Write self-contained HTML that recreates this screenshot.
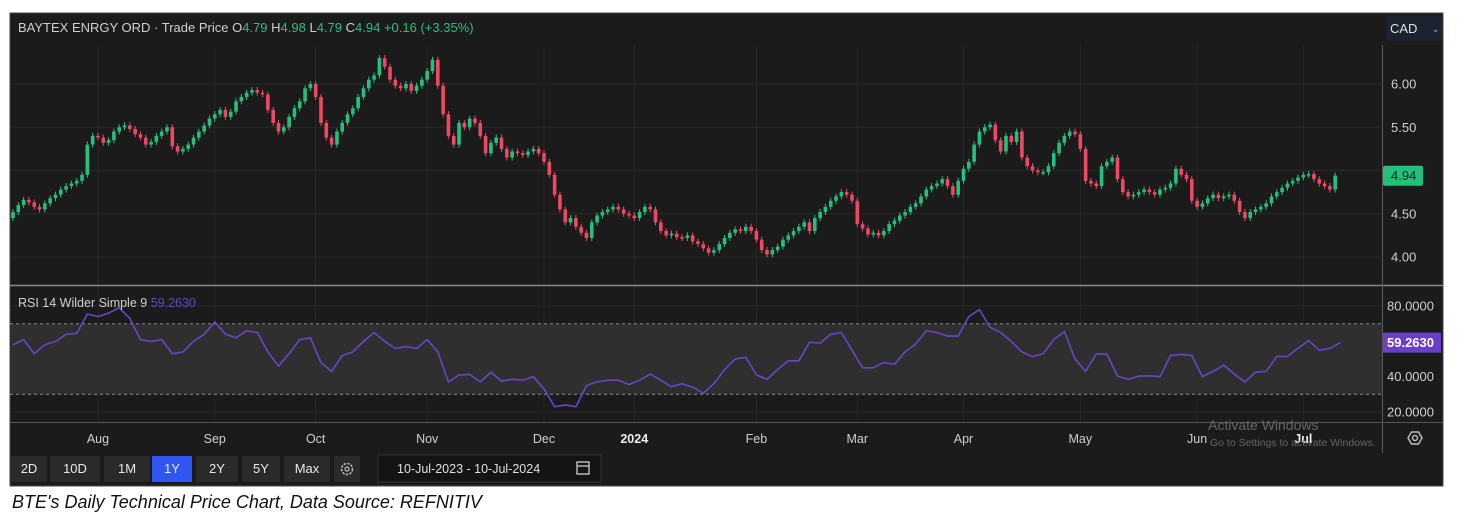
<!DOCTYPE html>
<html><head><meta charset="utf-8">
<style>
html,body{margin:0;padding:0;background:#fff;width:1457px;height:527px;overflow:hidden}
#wrap{position:relative;width:1457px;height:527px;font-family:"Liberation Sans",sans-serif}
svg text{font-family:"Liberation Sans",sans-serif}
.cap{position:absolute;left:12px;top:492px;font-size:18px;font-style:italic;color:#111}
</style></head>
<body><div id="wrap">
<svg id="chart" width="1457" height="527">
  <rect x="10" y="13" width="1433" height="473" fill="#1b1b1b" stroke="#4a4a4a"/>
  <g id="grid"></g>
  <rect id="rsiBand" fill="#2f2f2f"/>
  <g id="candles"></g>
  <g id="rsi"></g>
  <line x1="10" y1="285.5" x2="1443" y2="285.5" stroke="#8a8a8a" stroke-width="1.5"/>
  <line x1="10" y1="422.5" x2="1443" y2="422.5" stroke="#555"/>
  <line x1="1382.5" y1="45" x2="1382.5" y2="453" stroke="#5a5a5a"/>
  <g id="yticks"></g>
  <g id="xticks"></g>
  <text x="18" y="32" font-size="13" fill="#d0d0d0">BAYTEX ENRGY ORD · Trade Price <tspan fill="#d0d0d0">O</tspan><tspan fill="#2ebd7f">4.79</tspan> <tspan fill="#d0d0d0">H</tspan><tspan fill="#2ebd7f">4.98</tspan> <tspan fill="#d0d0d0">L</tspan><tspan fill="#2ebd7f">4.79</tspan> <tspan fill="#d0d0d0">C</tspan><tspan fill="#2ebd7f">4.94</tspan> <tspan fill="#2ebd7f">+0.16 (+3.35%)</tspan></text>
  <text x="18" y="307" font-size="12.5" fill="#d0d0d0">RSI 14 Wilder Simple 9 <tspan fill="#6a45c8">59.2630</tspan></text>
  <g>
    <rect x="1386" y="16" width="56" height="25" rx="3" fill="#1d2230"/>
    <text x="1390" y="33" font-size="13" fill="#e0e0e0">CAD</text>
    <text x="1432" y="32" font-size="9" fill="#bbb">⌄</text>
  </g>
  <g id="lastPrice"></g>
  <g id="lastRsi"></g>
  <g>
    <polygon points="1408,438 1411.5,432 1418.5,432 1422,438 1418.5,444 1411.5,444" fill="none" stroke="#bbb" stroke-width="1.5"/>
    <circle cx="1415" cy="438" r="2.5" fill="none" stroke="#bbb" stroke-width="1.5"/>
  </g>
  <text x="1208" y="430" font-size="14" fill="#777" opacity="0.8">Activate Windows</text>
  <text x="1210" y="446" font-size="10.5" fill="#777" opacity="0.8">Go to Settings to activate Windows.</text>
  <g id="toolbar"></g>
</svg>
<div class="cap">BTE's Daily Technical Price Chart, Data Source: REFNITIV</div>
</div>
<script>
const closes = [
4.52,4.60,4.66,4.63,4.58,4.55,4.62,4.68,4.72,4.78,
4.82,4.85,4.88,4.95,5.30,5.40,5.38,5.32,5.35,5.45,
5.50,5.52,5.48,5.42,5.38,5.30,5.33,5.40,5.45,5.50,
5.28,5.22,5.25,5.30,5.38,5.45,5.52,5.60,5.65,5.70,
5.62,5.68,5.80,5.85,5.90,5.93,5.90,5.88,5.70,5.55,
5.45,5.50,5.62,5.72,5.80,5.95,6.00,5.85,5.55,5.38,
5.30,5.45,5.55,5.65,5.72,5.85,5.95,6.05,6.10,6.30,
6.20,6.05,5.98,5.95,6.00,5.92,5.98,6.05,6.15,6.28,
5.98,5.65,5.40,5.30,5.55,5.50,5.60,5.55,5.40,5.20,
5.32,5.38,5.25,5.15,5.22,5.20,5.18,5.22,5.25,5.20,
5.10,4.95,4.72,4.55,4.40,4.45,4.35,4.28,4.22,4.40,
4.48,4.52,4.55,4.58,4.55,4.50,4.48,4.45,4.52,4.58,
4.55,4.40,4.30,4.25,4.27,4.23,4.22,4.25,4.18,4.15,
4.10,4.05,4.08,4.15,4.22,4.28,4.32,4.30,4.35,4.30,
4.20,4.08,4.03,4.08,4.12,4.20,4.25,4.30,4.35,4.40,
4.30,4.45,4.52,4.58,4.65,4.70,4.75,4.72,4.65,4.38,
4.33,4.26,4.28,4.25,4.30,4.38,4.42,4.48,4.52,4.58,
4.62,4.70,4.78,4.82,4.85,4.90,4.82,4.72,4.88,5.02,
5.10,5.30,5.45,5.50,5.53,5.35,5.22,5.40,5.33,5.45,
5.15,5.05,5.00,4.98,4.98,5.05,5.20,5.32,5.40,5.45,
5.42,5.25,4.88,4.85,4.82,5.05,5.10,5.15,4.90,4.75,
4.70,4.72,4.75,4.78,4.75,4.72,4.78,4.80,4.85,5.02,
4.95,4.90,4.65,4.58,4.62,4.68,4.72,4.68,4.70,4.72,
4.65,4.52,4.45,4.52,4.55,4.58,4.62,4.70,4.75,4.80,
4.85,4.88,4.92,4.95,4.96,4.90,4.85,4.82,4.78,4.94];
const firstOpen = 4.45;
const rsiValues = [58,61,53,58,60,64,64.5,75.5,74,76,79,73,61,60,61,53,54,60,64,71,
64,62,66,65,54,46,53,61,62,48,43,52,54,60,65,60,56,57,56,61,
54,37,41,41.3,37,42.5,37.5,38.5,38,40,33,23,24,23,35,37,38,38,35.5,38,
41.5,38,34.3,36,34,30.6,36,44,50,51,41,38.5,44,49,49,59.5,59,64,65,55,
45,45,48,47,54,58.5,66,65,63,63,74,78,68,65,60,54,51.3,53,61,65.5,
50,43,52.8,52.8,40.3,38.5,40.3,40.5,40,52,52.6,52,40,43,46.5,41.5,37,42.5,43,51.5,
51.5,56,60.5,55,56,59.3];
const priceTicks = [4.00,4.50,5.00,5.50,6.00];
const priceTickLabels = ["4.00","4.50","","5.50","6.00"];
const rsiTicks = [20,40,60,80];
const rsiTickLabels = ["20.0000","40.0000","","80.0000"];
const monthLabels = ["Aug","Sep","Oct","Nov","Dec","2024","Feb","Mar","Apr","May","Jun","Jul"];
const monthIndex = [16,38,57,78,100,117,140,159,179,201,223,243];
const lastPrice = 4.94, lastRsi = 59.263;

const NS="http://www.w3.org/2000/svg";
function mk(tag,attrs,parent){const e=document.createElementNS(NS,tag);for(const k in attrs)e.setAttribute(k,attrs[k]);parent.appendChild(e);return e;}
const X0=13, STEP=5.31;
const xAt = i => X0 + i*STEP;
const yP = p => 257 - (p-4)*86.5;
const yR = v => 394.3 - (v-30)*1.765;

const grid=document.getElementById('grid');
priceTicks.forEach(t=>{const l=mk('line',{x1:10,x2:1382,y1:yP(t),y2:yP(t),stroke:'#2a2a2a'},grid);

});
rsiTicks.forEach(t=>{const l=mk('line',{x1:10,x2:1382,y1:yR(t),y2:yR(t),stroke:'#2a2a2a'},grid);

});
monthIndex.forEach(i=>{const l=mk('line',{x1:xAt(i),x2:xAt(i),y1:45,y2:422,stroke:'#262626'},grid);

});

const band=document.getElementById('rsiBand');
band.setAttribute('x',10);band.setAttribute('width',1372);
band.setAttribute('y',yR(70));band.setAttribute('height',yR(30)-yR(70));
[70,30].forEach(v=>{const l=mk('line',{x1:10,x2:1382,y1:yR(v),y2:yR(v),stroke:'#8a8a8a','stroke-dasharray':'3,3'},grid.parentNode);


grid.parentNode.insertBefore(l,document.getElementById('candles'));});

const cg=document.getElementById('candles');
closes.forEach((c,i)=>{
  const o = i===0?firstOpen:closes[i-1];
  const up = c>=o, col = up?'#26c07e':'#ee4863';
  const hi=Math.max(o,c)+0.035, lo=Math.min(o,c)-0.035, x=xAt(i);
  const g=mk('g',{},cg);
  
  
  mk('line',{x1:x,x2:x,y1:yP(hi),y2:yP(lo),stroke:col,'stroke-width':1},g);
  const t=yP(Math.max(o,c)), b=yP(Math.min(o,c));
  mk('rect',{x:x-1.8,y:t,width:3.6,height:Math.max(1.5,b-t),fill:col},g);
});

const rg=document.getElementById('rsi');
const pts=rsiValues.map((v,k)=>xAt(2*k).toFixed(1)+','+yR(v).toFixed(1)).join(' ');
const pl=mk('polyline',{points:pts,fill:'none',stroke:'#6a45c8','stroke-width':1.6},rg);



const yt=document.getElementById('yticks');
priceTicks.forEach((t,i)=>{if(!priceTickLabels[i])return;const e=mk('text',{x:1391,y:yP(t)+4.5,'font-size':13,fill:'#d0d0d0'},yt);e.textContent=priceTickLabels[i];

});
rsiTicks.forEach((t,i)=>{if(!rsiTickLabels[i])return;const e=mk('text',{x:1387,y:yR(t)+4.5,'font-size':13,fill:'#d0d0d0'},yt);e.textContent=rsiTickLabels[i];

});

const lp=document.getElementById('lastPrice');
mk('rect',{x:1383,y:yP(lastPrice)-10,width:40,height:20,rx:2,fill:'#22c07a'},lp);
const lpt=mk('text',{x:1391,y:yP(lastPrice)+4.5,'font-size':13,fill:'#0b2a1a'},lp);lpt.textContent=lastPrice.toFixed(2);
const lr=document.getElementById('lastRsi');
mk('rect',{x:1383,y:yR(lastRsi)-10,width:58,height:20,fill:'#6a3fc8'},lr);
const lrt=mk('text',{x:1387,y:yR(lastRsi)+4.5,'font-size':13,'font-weight':'bold',fill:'#fff'},lr);lrt.textContent=lastRsi.toFixed(4);

const xt=document.getElementById('xticks');
monthLabels.forEach((m,i)=>{const bold=m==='2024'||m==='Jul';
const e=mk('text',{x:xAt(monthIndex[i]),y:443,'font-size':12.5,'text-anchor':'middle',fill:bold?'#eee':'#cfcfcf','font-weight':bold?'bold':'normal'},xt);e.textContent=m;

});

const tb=document.getElementById('toolbar');
const btns=[["2D",11,36],["10D",50,50],["1M",104,46],["1Y",152,40],["2Y",196,42],["5Y",242,38],["Max",284,46]];
btns.forEach(b=>{const g=mk('g',{},tb);


mk('rect',{x:b[1],y:456,width:b[2],height:26,fill:b[0]==='1Y'?'#2f55f2':'#2a2a2a'},g);
const t=mk('text',{x:b[1]+b[2]/2,y:473,'font-size':13,'text-anchor':'middle',fill:'#e8e8e8'},g);t.textContent=b[0];});
const sg=mk('g',{},tb);


mk('rect',{x:334,y:456,width:26,height:26,fill:'#2a2a2a'},sg);
mk('circle',{cx:347,cy:469,r:5.5,fill:'none',stroke:'#bbb','stroke-width':1.5,'stroke-dasharray':'2.5,1.2'},sg);
mk('circle',{cx:347,cy:469,r:2,fill:'none',stroke:'#bbb','stroke-width':1.2},sg);
const dg=mk('g',{},tb);


mk('rect',{x:378,y:455,width:223,height:27,fill:'#141414',stroke:'#333'},dg);
const dt=mk('text',{x:397,y:473,'font-size':12.5,fill:'#e0e0e0'},dg);dt.textContent='10-Jul-2023  -  10-Jul-2024';
mk('rect',{x:577,y:462,width:12,height:12,fill:'none',stroke:'#ccc','stroke-width':1.3},dg);
mk('line',{x1:577,x2:589,y1:466,y2:466,stroke:'#ccc','stroke-width':1.3},dg);
</script>
</body></html>
